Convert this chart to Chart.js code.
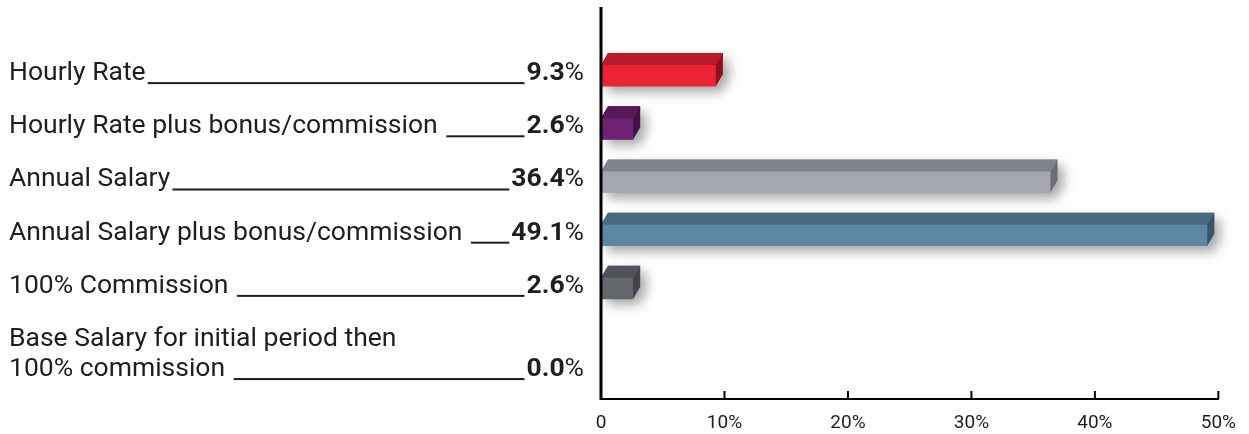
<!DOCTYPE html>
<html>
<head>
<meta charset="utf-8">
<script src="https://cdn.jsdelivr.net/npm/chart.js@4/dist/chart.umd.min.js"></script>
<style>
    html, body { margin: 0; padding: 0; background: #fff; }
    #wrap { width: 1249px; height: 434px; position: relative; }
</style>
</head>
<body>
<div id="wrap"><canvas id="chart"></canvas></div>
<script>
// data
var categories = [
    'Hourly Rate',
    'Hourly Rate plus bonus/commission ',
    'Annual Salary',
    'Annual Salary plus bonus/commission ',
    '100% Commission ',
    ['Base Salary for initial period then', '100% commission ']
];
var values = [9.3, 2.6, 36.4, 49.1, 2.6, 0.0];
var xTickLabels = ['0', '10%', '20%', '30%', '40%', '50%'];

// bar colours: front, top and side faces
var frontColors = ['#ec2333', '#6d2371', '#a4a7b0', '#5b87a2', '#64666d'];
var topColors = ['#b81b29', '#571858', '#7f838b', '#48697e', '#515359'];
var sideColors = ['#8e121d', '#421145', '#6a6d74', '#395466', '#43454a'];

var depthX = 7, depthY = 12;
var textColor = '#1e1e1e';
var labelFont = '26.5px Roboto';
var valueFont = 'bold 26.5px Roboto';

var points = values.map(function (v, i) {
    return { x: v, y: i };
});

function barGeom(bar) {
    var p = bar.getProps(['x', 'y', 'base', 'height'], true);
    return {
        left: Math.min(p.base, p.x),
        right: Math.max(p.base, p.x),
        top: p.y - p.height / 2,
        bottom: p.y + p.height / 2
    };
}

var cubePlugin = {
    id: 'cube',
    beforeDatasetsDraw: function (chart) {
        var ctx = chart.ctx;
        var meta = chart.getDatasetMeta(0);
        ctx.save();
        ctx.shadowColor = 'rgba(0,0,0,0.35)';
        ctx.shadowBlur = 12;
        ctx.shadowOffsetX = 6;
        ctx.shadowOffsetY = 6;
        meta.data.forEach(function (bar, i) {
            if (!values[i]) return;
            var g = barGeom(bar);
            ctx.fillStyle = frontColors[i];
            ctx.beginPath();
            ctx.moveTo(g.left, g.bottom);
            ctx.lineTo(g.left, g.top);
            ctx.lineTo(g.left + depthX, g.top - depthY);
            ctx.lineTo(g.right + depthX, g.top - depthY);
            ctx.lineTo(g.right + depthX, g.bottom - depthY);
            ctx.lineTo(g.right, g.bottom);
            ctx.closePath();
            ctx.fill();
        });
        ctx.restore();
    },
    afterDatasetsDraw: function (chart) {
        var ctx = chart.ctx;
        var meta = chart.getDatasetMeta(0);
        var area = chart.chartArea;
        var xScale = chart.scales.x;
        var yScale = chart.scales.y;

        ctx.save();
        meta.data.forEach(function (bar, i) {
            if (!values[i]) return;
            var g = barGeom(bar);
            // top face
            ctx.fillStyle = topColors[i];
            ctx.beginPath();
            ctx.moveTo(g.left, g.top);
            ctx.lineTo(g.left + depthX, g.top - depthY);
            ctx.lineTo(g.right + depthX, g.top - depthY);
            ctx.lineTo(g.right, g.top);
            ctx.closePath();
            ctx.fill();
            // side face
            ctx.fillStyle = sideColors[i];
            ctx.beginPath();
            ctx.moveTo(g.right, g.top);
            ctx.lineTo(g.right + depthX, g.top - depthY);
            ctx.lineTo(g.right + depthX, g.bottom - depthY);
            ctx.lineTo(g.right, g.bottom);
            ctx.closePath();
            ctx.fill();
        });

        // vertical axis line
        ctx.fillStyle = '#000';
        ctx.fillRect(area.left - 1.5, area.top, 3, area.bottom - area.top + 1);

        // inward tick marks
        xScale.ticks.forEach(function (t) {
            if (t.value === 0) return;
            var px = xScale.getPixelForValue(t.value);
            ctx.fillRect(px - 1, area.bottom - 8, 2, 8);
        });

        // category labels with leader lines and values
        ctx.fillStyle = textColor;
        ctx.textBaseline = 'alphabetic';
        var valueRight = 584;
        categories.forEach(function (cat, i) {
            var lines = Array.isArray(cat) ? cat : [cat];
            var base = yScale.getPixelForValue(i) + 4.5;
            lines.forEach(function (line, j) {
                var y = base + j * 30;
                ctx.font = labelFont;
                ctx.textAlign = 'left';
                ctx.fillText(line, 9, y);
                if (j < lines.length - 1) return;

                var textEnd = 9 + ctx.measureText(line).width;
                ctx.textAlign = 'right';
                ctx.fillText('%', valueRight, y);
                var pctW = ctx.measureText('%').width;
                ctx.font = valueFont;
                var num = values[i].toFixed(1);
                ctx.fillText(num, valueRight - pctW, y);
                var valueStart = valueRight - pctW - ctx.measureText(num).width;

                ctx.fillRect(textEnd + 2, y + 2, valueStart - textEnd - 4, 2);
            });
        });
        ctx.restore();
    }
};

new Chart(document.getElementById('chart'), {
    type: 'bar',
    data: {
        datasets: [{
            data: points,
            backgroundColor: frontColors,
            borderWidth: 0,
            barThickness: 21
        }]
    },
    options: {
        indexAxis: 'y',
        responsive: true,
        maintainAspectRatio: false,
        animation: false,
        layout: {
            padding: { left: 601, right: 30, top: 7, bottom: 0 }
        },
        plugins: {
            legend: { display: false },
            tooltip: { enabled: false }
        },
        scales: {
            x: {
                type: 'linear',
                min: 0,
                max: 50,
                grid: { display: false, drawTicks: false },
                border: { display: true, color: '#000', width: 2 },
                ticks: {
                    stepSize: 10,
                    padding: 13,
                    color: textColor,
                    font: { family: 'Roboto', size: 19 },
                    callback: function (v, idx) { return xTickLabels[idx]; }
                },
                afterFit: function (scale) { scale.height = 35; }
            },
            y: {
                type: 'linear',
                reverse: true,
                offset: false,
                min: -1.29,
                max: 6.08,
                display: false
            }
        }
    },
    plugins: [cubePlugin]
});
</script>
</body>
</html>
